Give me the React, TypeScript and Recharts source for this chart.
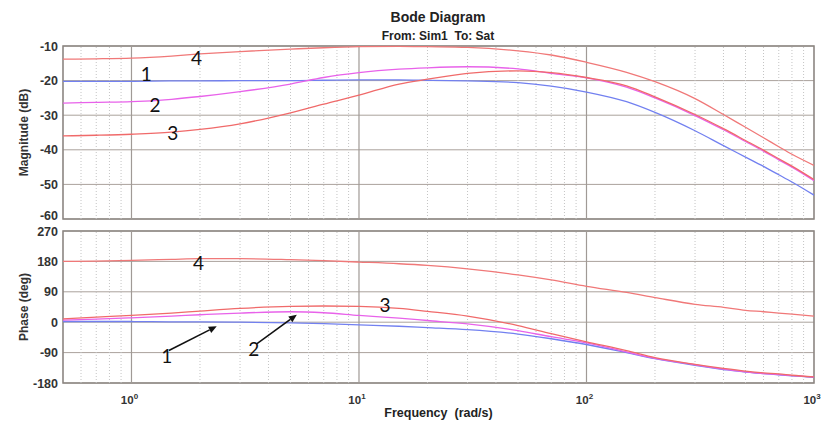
import React from "react";
import { LineChart, Line, XAxis, YAxis, CartesianGrid, ReferenceLine, ReferenceDot, ReferenceArea } from "recharts";

const freq = [0.5, 0.7, 1, 1.5, 2, 3, 5, 7, 10, 15, 20, 30, 50, 70, 100, 150, 200, 300, 400, 500, 600, 700, 800, 1000];

// magnitude (dB)
const mag1 = [-20.2, -20.2, -20.2, -20.1, -20.1, -20.0, -20.0, -19.9, -19.8, -19.8, -19.9, -20.1, -20.6, -21.6, -23.3, -26.1, -29.2, -34.5, -38.8, -42.1, -44.8, -47.2, -49.3, -53.1];
const mag2 = [-26.5, -26.3, -26.1, -25.4, -24.6, -23.2, -21.0, -19.1, -17.7, -16.7, -16.3, -16.0, -16.6, -17.9, -19.2, -21.9, -25.0, -30.1, -34.2, -37.6, -40.4, -42.9, -45.0, -48.9];
const mag3 = [-36.0, -35.8, -35.5, -34.9, -34.1, -32.5, -29.3, -26.8, -24.2, -21.0, -19.6, -17.9, -17.2, -17.7, -19.1, -21.5, -24.7, -29.8, -33.9, -37.3, -40.1, -42.6, -44.7, -48.6];
const mag4 = [-13.8, -13.7, -13.5, -12.9, -12.3, -11.6, -10.9, -10.5, -10.2, -10.1, -10.2, -10.4, -11.4, -12.6, -14.7, -17.6, -20.3, -25.2, -29.8, -33.5, -36.5, -39.1, -41.3, -44.5];

// phase (deg)
const phase1 = [2, 2, 2, 1, 1, 0, -2, -4, -8, -12, -16, -22, -35, -49, -66, -90, -108, -128, -140, -148, -152, -156, -159, -163];
const phase2 = [6, 9, 13, 18, 22, 27, 31, 28, 20, 12, 5, -5, -25, -43, -61, -88, -107, -126, -139, -147, -152, -155, -158, -162];
const phase3 = [10, 15, 20, 27, 33, 41, 47, 48, 47, 41, 32, 18, -10, -34, -58, -84, -105, -125, -137, -145, -150, -153, -157, -162];
const phase4 = [180, 181, 183, 186, 188, 188, 185, 182, 178, 173, 168, 158, 140, 125, 106, 88, 73, 53, 44, 35, 31, 27, 24, 18];

const magTicks = [-60, -50, -40, -30, -20, -10];
const phaseTicks = [-180, -90, 0, 90, 180, 270];
const decadeTicks = [1, 10, 100, 1000];
const majorGrid = [1, 10, 100];
const minorGrid = [0.6, 0.7, 0.8, 0.9, 2, 3, 4, 5, 6, 7, 8, 9, 20, 30, 40, 50, 60, 70, 80, 90, 200, 300, 400, 500, 600, 700, 800, 900];

// curve numbers written on the plot
const magNotes = [
  { f: 1.93, v: -13.2, text: "4" },
  { f: 1.16, v: -17.9, text: "1" },
  { f: 1.27, v: -26.8, text: "2" },
  { f: 1.52, v: -34.9, text: "3" },
];
const phaseNotes = [
  { f: 1.97, v: 178, text: "4" },
  { f: 13.0, v: 53, text: "3" },
  { f: 1.43, v: -100, text: "1" },
  { f: 3.45, v: -78, text: "2" },
];
const phaseArrows = [
  { f1: 1.46, v1: -84, f2: 2.37, v2: -12 },
  { f1: 3.55, v1: -64, f2: 5.33, v2: 22 },
];

const colors = ["#7280f0", "#e862ea", "#f06a6a", "#f07878"];

const magData = freq.map((f, i) => ({ f, s1: mag1[i], s2: mag2[i], s3: mag3[i], s4: mag4[i] }));
const phaseData = freq.map((f, i) => ({ f, s1: phase1[i], s2: phase2[i], s3: phase3[i], s4: phase4[i] }));

const FONT = "'Liberation Sans', Arial, sans-serif";

const YTick = (props: any) => {
  const { x, y, payload } = props;
  // the lowest magnitude label sits a little higher so it clears the "270" below it
  const shift = payload.value === -60 ? -4 : 0;
  return (
    <text x={x} y={y + shift} dy="0.36em" textAnchor="end" fontSize={12.5} fontWeight={700} fill="#333" fontFamily={FONT}>
      {payload.value}
    </text>
  );
};

const yLabel = (text: string) => (props: any) => {
  const vb = props.viewBox;
  const cx = vb.x + 25;
  const cy = vb.y + vb.height / 2;
  return (
    <text x={cx} y={cy} transform={`rotate(-90, ${cx}, ${cy})`} textAnchor="middle" dominantBaseline="middle"
      fontSize={12} fontWeight={700} fill="#333" fontFamily={FONT}>
      {text}
    </text>
  );
};

const xLabel = (props: any) => {
  const vb = props.viewBox;
  return (
    <text x={vb.x + vb.width / 2} y={vb.y + 34} textAnchor="middle" fontSize={12.5} fontWeight={700} fill="#222" fontFamily={FONT}>
      Frequency{"\u00a0\u00a0"}(rad/s)
    </text>
  );
};

const DecadeTick = (props: any) => {
  const { x, y, payload } = props;
  const exp = Math.round(Math.log10(payload.value));
  return (
    <text x={x - 2} y={y + 21} textAnchor="middle" fontSize={11.5} fontWeight={700} fill="#333" fontFamily={FONT}>
      <tspan>10</tspan>
      <tspan dy={-5} fontSize={8}>{exp}</tspan>
    </text>
  );
};

const Note = (text: string) => (p: any) => (
  <text x={p.cx} y={p.cy} textAnchor="middle" dominantBaseline="central" fontSize={19} fill="#111" fontFamily="Lato, sans-serif">
    {text}
  </text>
);

const Arrow = (p: any) => {
  const { x1, y1, x2, y2 } = p;
  const a = Math.atan2(y2 - y1, x2 - x1);
  const len = 8, w = 3.5;
  const bx = x2 - len * Math.cos(a), by = y2 - len * Math.sin(a);
  const pts = `${x2},${y2} ${bx - w * Math.sin(a)},${by + w * Math.cos(a)} ${bx + w * Math.sin(a)},${by - w * Math.cos(a)}`;
  return (
    <g>
      <line x1={x1} y1={y1} x2={bx} y2={by} stroke="#111" strokeWidth={1.6} />
      <polygon points={pts} fill="#111" />
    </g>
  );
};

const grid = () => [
  ...minorGrid.map((g) => <ReferenceLine key={"n" + g} x={g} stroke="#c4c4c4" strokeDasharray="1 2" />),
  ...majorGrid.map((g) => <ReferenceLine key={"j" + g} x={g} stroke="#a09a96" strokeWidth={1.2} />),
];

const series = () =>
  ["s1", "s2", "s3", "s4"].map((k, i) => (
    <Line key={k} dataKey={k} type="monotone" stroke={colors[i]} strokeWidth={1.3} dot={false} isAnimationActive={false} />
  ));

const App: React.FC = () => {
  return (
    <div style={{ position: "absolute", left: 0, top: 0, width: 824, height: 423, background: "#fff", fontFamily: FONT }}>
      <div style={{ position: "absolute", left: 338, top: 9, width: 200, textAlign: "center", fontSize: 14, lineHeight: "16px", fontWeight: 700, color: "#222" }}>
        Bode Diagram
      </div>
      <div style={{ position: "absolute", left: 338, top: 29, width: 200, textAlign: "center", fontSize: 12, lineHeight: "14px", fontWeight: 700, color: "#222", whiteSpace: "pre" }}>
        From: Sim1  To: Sat
      </div>

      <div style={{ position: "absolute", left: 0, top: 0 }}>
        <LineChart width={824} height={224} data={magData} margin={{ top: 46, right: 10, bottom: 5, left: 0 }}>
          <CartesianGrid vertical={false} stroke="#aaa29c" />
          {grid()}
          <XAxis dataKey="f" type="number" scale="log" domain={[0.5, 1000]} allowDataOverflow hide />
          <YAxis type="number" domain={[-60, -10]} ticks={magTicks} interval={0} width={63} tickSize={4} tickMargin={1}
            axisLine={false} tickLine={false} tick={<YTick />} label={yLabel("Magnitude (dB)")} />
          <ReferenceArea x1={0.5} x2={1000} y1={-60} y2={-10} fill="none" stroke="#8c8682" strokeWidth={1.6} />
          {series()}
          {magNotes.map((n) => (
            <ReferenceDot key={"m" + n.text} x={n.f} y={n.v} r={0} shape={Note(n.text)} />
          ))}
        </LineChart>
      </div>

      <div style={{ position: "absolute", left: 0, top: 220 }}>
        <LineChart width={824} height={203} data={phaseData} margin={{ top: 11, right: 10, bottom: 0, left: 0 }}>
          <CartesianGrid vertical={false} stroke="#aaa29c" />
          {grid()}
          <XAxis dataKey="f" type="number" scale="log" domain={[0.5, 1000]} allowDataOverflow ticks={decadeTicks} interval={0}
            height={40} axisLine={false} tickLine={false} tickSize={0} tickMargin={0} tick={<DecadeTick />} label={xLabel} />
          <YAxis type="number" domain={[-180, 270]} ticks={phaseTicks} interval={0} width={63} tickSize={4} tickMargin={1}
            axisLine={false} tickLine={false} tick={<YTick />} label={yLabel("Phase (deg)")} />
          <ReferenceArea x1={0.5} x2={1000} y1={-180} y2={270} fill="none" stroke="#8c8682" strokeWidth={1.6} />
          {series()}
          {phaseNotes.map((n) => (
            <ReferenceDot key={"p" + n.text} x={n.f} y={n.v} r={0} shape={Note(n.text)} />
          ))}
          {phaseArrows.map((a, i) => (
            <ReferenceLine key={"a" + i} segment={[{ x: a.f1, y: a.v1 }, { x: a.f2, y: a.v2 }]} shape={Arrow} />
          ))}
        </LineChart>
      </div>
    </div>
  );
};

export default App;
